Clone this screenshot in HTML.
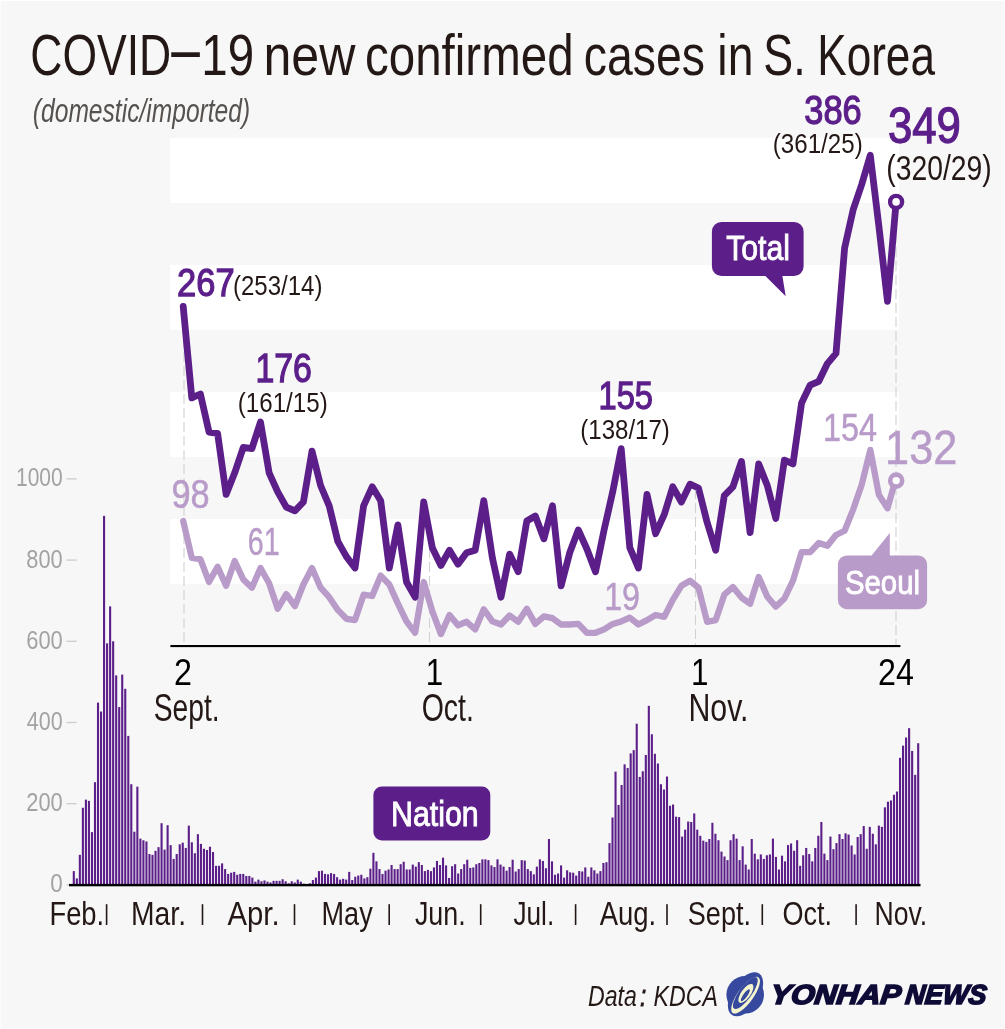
<!DOCTYPE html>
<html lang="en"><head><meta charset="utf-8"><title>COVID-19 new confirmed cases in S. Korea</title>
<style>html,body{margin:0;padding:0;background:#f7f7f7}svg{display:block}text{font-family:"Liberation Sans",sans-serif}</style></head><body>
<svg width="1005" height="1029" viewBox="0 0 1005 1029">
<rect width="1005" height="1029" fill="#f7f7f7"/>
<rect x="170.2" y="137.9" width="729" height="65" fill="#fff"/>
<rect x="170.2" y="264.9" width="729" height="65" fill="#fff"/>
<rect x="170.2" y="391.9" width="729" height="65" fill="#fff"/>
<rect x="170.2" y="518.9" width="729" height="65" fill="#fff"/>
<g fill="#5c1f8a">
<rect x="72.75" y="871.10" width="2.1" height="13.80"/>
<rect x="75.78" y="878.40" width="2.1" height="6.50"/>
<rect x="78.80" y="854.86" width="2.1" height="30.04"/>
<rect x="81.83" y="807.76" width="2.1" height="77.14"/>
<rect x="84.86" y="799.64" width="2.1" height="85.26"/>
<rect x="87.88" y="800.86" width="2.1" height="84.04"/>
<rect x="90.91" y="832.12" width="2.1" height="52.78"/>
<rect x="93.94" y="782.18" width="2.1" height="102.72"/>
<rect x="96.96" y="702.61" width="2.1" height="182.29"/>
<rect x="99.99" y="711.54" width="2.1" height="173.36"/>
<rect x="103.02" y="515.85" width="2.1" height="369.05"/>
<rect x="106.04" y="643.33" width="2.1" height="241.57"/>
<rect x="109.07" y="606.38" width="2.1" height="278.52"/>
<rect x="112.09" y="641.30" width="2.1" height="243.60"/>
<rect x="115.12" y="675.40" width="2.1" height="209.50"/>
<rect x="118.15" y="707.07" width="2.1" height="177.83"/>
<rect x="121.17" y="674.59" width="2.1" height="210.31"/>
<rect x="124.20" y="688.80" width="2.1" height="196.10"/>
<rect x="127.23" y="735.90" width="2.1" height="149.00"/>
<rect x="130.25" y="784.21" width="2.1" height="100.69"/>
<rect x="133.28" y="831.71" width="2.1" height="53.19"/>
<rect x="136.31" y="786.65" width="2.1" height="98.25"/>
<rect x="139.33" y="838.62" width="2.1" height="46.28"/>
<rect x="142.36" y="840.24" width="2.1" height="44.66"/>
<rect x="145.39" y="841.46" width="2.1" height="43.44"/>
<rect x="148.41" y="854.04" width="2.1" height="30.86"/>
<rect x="151.44" y="854.86" width="2.1" height="30.04"/>
<rect x="154.47" y="850.80" width="2.1" height="34.10"/>
<rect x="157.49" y="847.14" width="2.1" height="37.76"/>
<rect x="160.52" y="823.19" width="2.1" height="61.71"/>
<rect x="163.54" y="849.58" width="2.1" height="35.32"/>
<rect x="166.57" y="825.22" width="2.1" height="59.68"/>
<rect x="169.60" y="845.11" width="2.1" height="39.79"/>
<rect x="172.62" y="858.92" width="2.1" height="25.98"/>
<rect x="175.65" y="854.04" width="2.1" height="30.86"/>
<rect x="178.68" y="844.30" width="2.1" height="40.60"/>
<rect x="181.70" y="842.68" width="2.1" height="42.22"/>
<rect x="184.73" y="847.95" width="2.1" height="36.95"/>
<rect x="187.76" y="825.62" width="2.1" height="59.28"/>
<rect x="190.78" y="842.27" width="2.1" height="42.63"/>
<rect x="193.81" y="853.23" width="2.1" height="31.67"/>
<rect x="196.84" y="834.15" width="2.1" height="50.75"/>
<rect x="199.86" y="843.89" width="2.1" height="41.01"/>
<rect x="202.89" y="848.77" width="2.1" height="36.13"/>
<rect x="205.92" y="849.98" width="2.1" height="34.92"/>
<rect x="208.94" y="846.74" width="2.1" height="38.16"/>
<rect x="211.97" y="852.01" width="2.1" height="32.89"/>
<rect x="215.00" y="865.82" width="2.1" height="19.08"/>
<rect x="218.02" y="865.82" width="2.1" height="19.08"/>
<rect x="221.05" y="863.38" width="2.1" height="21.52"/>
<rect x="224.07" y="869.07" width="2.1" height="15.83"/>
<rect x="227.10" y="873.94" width="2.1" height="10.96"/>
<rect x="230.13" y="872.72" width="2.1" height="12.18"/>
<rect x="233.15" y="871.91" width="2.1" height="12.99"/>
<rect x="236.18" y="874.75" width="2.1" height="10.15"/>
<rect x="239.21" y="873.94" width="2.1" height="10.96"/>
<rect x="242.23" y="873.94" width="2.1" height="10.96"/>
<rect x="245.26" y="875.97" width="2.1" height="8.93"/>
<rect x="248.29" y="875.97" width="2.1" height="8.93"/>
<rect x="251.31" y="877.59" width="2.1" height="7.31"/>
<rect x="254.34" y="881.65" width="2.1" height="3.25"/>
<rect x="257.37" y="879.62" width="2.1" height="5.28"/>
<rect x="260.39" y="881.25" width="2.1" height="3.65"/>
<rect x="263.42" y="880.43" width="2.1" height="4.47"/>
<rect x="266.45" y="881.65" width="2.1" height="3.25"/>
<rect x="269.47" y="882.46" width="2.1" height="2.44"/>
<rect x="272.50" y="880.84" width="2.1" height="4.06"/>
<rect x="275.53" y="880.84" width="2.1" height="4.06"/>
<rect x="278.55" y="880.84" width="2.1" height="4.06"/>
<rect x="281.58" y="879.22" width="2.1" height="5.68"/>
<rect x="284.60" y="881.25" width="2.1" height="3.65"/>
<rect x="287.63" y="883.28" width="2.1" height="1.62"/>
<rect x="290.66" y="881.25" width="2.1" height="3.65"/>
<rect x="293.68" y="882.46" width="2.1" height="2.44"/>
<rect x="296.71" y="879.62" width="2.1" height="5.28"/>
<rect x="299.74" y="881.65" width="2.1" height="3.25"/>
<rect x="302.76" y="883.68" width="2.1" height="1.22"/>
<rect x="305.79" y="884.09" width="2.1" height="0.81"/>
<rect x="308.82" y="883.28" width="2.1" height="1.62"/>
<rect x="311.84" y="880.03" width="2.1" height="4.87"/>
<rect x="314.87" y="877.59" width="2.1" height="7.31"/>
<rect x="317.90" y="871.10" width="2.1" height="13.80"/>
<rect x="320.92" y="870.69" width="2.1" height="14.21"/>
<rect x="323.95" y="873.94" width="2.1" height="10.96"/>
<rect x="326.98" y="874.34" width="2.1" height="10.56"/>
<rect x="330.00" y="873.13" width="2.1" height="11.77"/>
<rect x="333.03" y="873.94" width="2.1" height="10.96"/>
<rect x="336.06" y="877.19" width="2.1" height="7.71"/>
<rect x="339.08" y="879.62" width="2.1" height="5.28"/>
<rect x="342.11" y="878.81" width="2.1" height="6.09"/>
<rect x="345.13" y="879.62" width="2.1" height="5.28"/>
<rect x="348.16" y="871.91" width="2.1" height="12.99"/>
<rect x="351.19" y="880.03" width="2.1" height="4.87"/>
<rect x="354.21" y="876.78" width="2.1" height="8.12"/>
<rect x="357.24" y="875.56" width="2.1" height="9.34"/>
<rect x="360.27" y="874.75" width="2.1" height="10.15"/>
<rect x="363.29" y="878.40" width="2.1" height="6.50"/>
<rect x="366.32" y="877.19" width="2.1" height="7.71"/>
<rect x="369.35" y="868.66" width="2.1" height="16.24"/>
<rect x="372.37" y="852.83" width="2.1" height="32.07"/>
<rect x="375.40" y="861.35" width="2.1" height="23.55"/>
<rect x="378.43" y="869.07" width="2.1" height="15.83"/>
<rect x="381.45" y="873.94" width="2.1" height="10.96"/>
<rect x="384.48" y="870.69" width="2.1" height="14.21"/>
<rect x="387.51" y="869.47" width="2.1" height="15.43"/>
<rect x="390.53" y="865.01" width="2.1" height="19.89"/>
<rect x="393.56" y="869.07" width="2.1" height="15.83"/>
<rect x="396.59" y="869.07" width="2.1" height="15.83"/>
<rect x="399.61" y="864.19" width="2.1" height="20.71"/>
<rect x="402.64" y="861.76" width="2.1" height="23.14"/>
<rect x="405.67" y="869.47" width="2.1" height="15.43"/>
<rect x="408.69" y="869.47" width="2.1" height="15.43"/>
<rect x="411.72" y="864.60" width="2.1" height="20.30"/>
<rect x="414.74" y="866.63" width="2.1" height="18.27"/>
<rect x="417.77" y="862.16" width="2.1" height="22.74"/>
<rect x="420.80" y="865.01" width="2.1" height="19.89"/>
<rect x="423.82" y="871.10" width="2.1" height="13.80"/>
<rect x="426.85" y="869.88" width="2.1" height="15.02"/>
<rect x="429.88" y="871.10" width="2.1" height="13.80"/>
<rect x="432.90" y="867.44" width="2.1" height="17.46"/>
<rect x="435.93" y="860.95" width="2.1" height="23.95"/>
<rect x="438.96" y="865.01" width="2.1" height="19.89"/>
<rect x="441.98" y="857.70" width="2.1" height="27.20"/>
<rect x="445.01" y="865.41" width="2.1" height="19.49"/>
<rect x="448.04" y="878.00" width="2.1" height="6.90"/>
<rect x="451.06" y="866.22" width="2.1" height="18.68"/>
<rect x="454.09" y="864.19" width="2.1" height="20.71"/>
<rect x="457.12" y="873.53" width="2.1" height="11.37"/>
<rect x="460.14" y="869.07" width="2.1" height="15.83"/>
<rect x="463.17" y="864.19" width="2.1" height="20.71"/>
<rect x="466.19" y="859.73" width="2.1" height="25.17"/>
<rect x="469.22" y="867.85" width="2.1" height="17.05"/>
<rect x="472.25" y="867.44" width="2.1" height="17.46"/>
<rect x="475.27" y="864.19" width="2.1" height="20.71"/>
<rect x="478.30" y="862.98" width="2.1" height="21.92"/>
<rect x="481.33" y="859.32" width="2.1" height="25.58"/>
<rect x="484.35" y="859.32" width="2.1" height="25.58"/>
<rect x="487.38" y="860.13" width="2.1" height="24.77"/>
<rect x="490.41" y="865.41" width="2.1" height="19.49"/>
<rect x="493.43" y="867.04" width="2.1" height="17.86"/>
<rect x="496.46" y="859.32" width="2.1" height="25.58"/>
<rect x="499.49" y="864.60" width="2.1" height="20.30"/>
<rect x="502.51" y="866.63" width="2.1" height="18.27"/>
<rect x="505.54" y="870.69" width="2.1" height="14.21"/>
<rect x="508.57" y="867.04" width="2.1" height="17.86"/>
<rect x="511.59" y="859.73" width="2.1" height="25.17"/>
<rect x="514.62" y="871.50" width="2.1" height="13.40"/>
<rect x="517.65" y="869.07" width="2.1" height="15.83"/>
<rect x="520.67" y="860.13" width="2.1" height="24.77"/>
<rect x="523.70" y="860.54" width="2.1" height="24.36"/>
<rect x="526.73" y="869.07" width="2.1" height="15.83"/>
<rect x="529.75" y="871.10" width="2.1" height="13.80"/>
<rect x="532.78" y="874.34" width="2.1" height="10.56"/>
<rect x="535.80" y="866.63" width="2.1" height="18.27"/>
<rect x="538.83" y="859.32" width="2.1" height="25.58"/>
<rect x="541.86" y="860.95" width="2.1" height="23.95"/>
<rect x="544.88" y="868.25" width="2.1" height="16.65"/>
<rect x="547.91" y="839.02" width="2.1" height="45.88"/>
<rect x="550.94" y="861.35" width="2.1" height="23.55"/>
<rect x="553.96" y="874.75" width="2.1" height="10.15"/>
<rect x="556.99" y="873.53" width="2.1" height="11.37"/>
<rect x="560.02" y="865.41" width="2.1" height="19.49"/>
<rect x="563.04" y="877.59" width="2.1" height="7.31"/>
<rect x="566.07" y="870.28" width="2.1" height="14.62"/>
<rect x="569.10" y="872.31" width="2.1" height="12.59"/>
<rect x="572.12" y="872.72" width="2.1" height="12.18"/>
<rect x="575.15" y="875.56" width="2.1" height="9.34"/>
<rect x="578.18" y="871.10" width="2.1" height="13.80"/>
<rect x="581.20" y="871.50" width="2.1" height="13.40"/>
<rect x="584.23" y="867.44" width="2.1" height="17.46"/>
<rect x="587.25" y="876.78" width="2.1" height="8.12"/>
<rect x="590.28" y="867.44" width="2.1" height="17.46"/>
<rect x="593.31" y="870.28" width="2.1" height="14.62"/>
<rect x="596.33" y="873.53" width="2.1" height="11.37"/>
<rect x="599.36" y="871.10" width="2.1" height="13.80"/>
<rect x="602.39" y="862.98" width="2.1" height="21.92"/>
<rect x="605.41" y="862.16" width="2.1" height="22.74"/>
<rect x="608.44" y="843.08" width="2.1" height="41.82"/>
<rect x="611.47" y="817.50" width="2.1" height="67.40"/>
<rect x="614.49" y="771.63" width="2.1" height="113.27"/>
<rect x="617.52" y="804.92" width="2.1" height="79.98"/>
<rect x="620.55" y="785.02" width="2.1" height="99.88"/>
<rect x="623.57" y="764.32" width="2.1" height="120.58"/>
<rect x="626.60" y="767.97" width="2.1" height="116.93"/>
<rect x="629.63" y="753.36" width="2.1" height="131.54"/>
<rect x="632.65" y="750.11" width="2.1" height="134.79"/>
<rect x="635.68" y="723.72" width="2.1" height="161.18"/>
<rect x="638.71" y="776.90" width="2.1" height="108.00"/>
<rect x="641.73" y="771.22" width="2.1" height="113.68"/>
<rect x="644.76" y="754.98" width="2.1" height="129.92"/>
<rect x="647.78" y="705.85" width="2.1" height="179.05"/>
<rect x="650.81" y="734.27" width="2.1" height="150.63"/>
<rect x="653.84" y="753.76" width="2.1" height="131.14"/>
<rect x="656.86" y="763.51" width="2.1" height="121.39"/>
<rect x="659.89" y="784.21" width="2.1" height="100.69"/>
<rect x="662.92" y="789.49" width="2.1" height="95.41"/>
<rect x="665.94" y="776.50" width="2.1" height="108.40"/>
<rect x="668.97" y="805.73" width="2.1" height="79.17"/>
<rect x="672.00" y="804.51" width="2.1" height="80.39"/>
<rect x="675.02" y="816.69" width="2.1" height="68.21"/>
<rect x="678.05" y="817.10" width="2.1" height="67.80"/>
<rect x="681.08" y="836.59" width="2.1" height="48.31"/>
<rect x="684.10" y="829.68" width="2.1" height="55.22"/>
<rect x="687.13" y="821.56" width="2.1" height="63.34"/>
<rect x="690.16" y="821.97" width="2.1" height="62.93"/>
<rect x="693.18" y="813.44" width="2.1" height="71.46"/>
<rect x="696.21" y="829.68" width="2.1" height="55.22"/>
<rect x="699.24" y="835.77" width="2.1" height="49.13"/>
<rect x="702.26" y="840.65" width="2.1" height="44.25"/>
<rect x="705.29" y="841.86" width="2.1" height="43.04"/>
<rect x="708.31" y="839.02" width="2.1" height="45.88"/>
<rect x="711.34" y="822.78" width="2.1" height="62.12"/>
<rect x="714.37" y="833.74" width="2.1" height="51.16"/>
<rect x="717.39" y="840.24" width="2.1" height="44.66"/>
<rect x="720.42" y="851.61" width="2.1" height="33.29"/>
<rect x="723.45" y="856.48" width="2.1" height="28.42"/>
<rect x="726.47" y="860.13" width="2.1" height="24.77"/>
<rect x="729.50" y="840.24" width="2.1" height="44.66"/>
<rect x="732.53" y="834.15" width="2.1" height="50.75"/>
<rect x="735.55" y="838.62" width="2.1" height="46.28"/>
<rect x="738.58" y="860.13" width="2.1" height="24.77"/>
<rect x="741.61" y="846.33" width="2.1" height="38.57"/>
<rect x="744.63" y="864.60" width="2.1" height="20.30"/>
<rect x="747.66" y="869.47" width="2.1" height="15.43"/>
<rect x="750.69" y="839.02" width="2.1" height="45.88"/>
<rect x="753.71" y="853.64" width="2.1" height="31.26"/>
<rect x="756.74" y="859.32" width="2.1" height="25.58"/>
<rect x="759.77" y="854.45" width="2.1" height="30.45"/>
<rect x="762.79" y="858.92" width="2.1" height="25.98"/>
<rect x="765.82" y="855.26" width="2.1" height="29.64"/>
<rect x="768.85" y="854.45" width="2.1" height="30.45"/>
<rect x="771.87" y="838.62" width="2.1" height="46.28"/>
<rect x="774.90" y="856.89" width="2.1" height="28.01"/>
<rect x="777.92" y="869.47" width="2.1" height="15.43"/>
<rect x="780.95" y="855.67" width="2.1" height="29.23"/>
<rect x="783.98" y="861.35" width="2.1" height="23.55"/>
<rect x="787.00" y="845.11" width="2.1" height="39.79"/>
<rect x="790.03" y="843.49" width="2.1" height="41.41"/>
<rect x="793.06" y="850.80" width="2.1" height="34.10"/>
<rect x="796.08" y="840.24" width="2.1" height="44.66"/>
<rect x="799.11" y="865.82" width="2.1" height="19.08"/>
<rect x="802.14" y="855.26" width="2.1" height="29.64"/>
<rect x="805.16" y="847.95" width="2.1" height="36.95"/>
<rect x="808.19" y="854.04" width="2.1" height="30.86"/>
<rect x="811.22" y="861.35" width="2.1" height="23.55"/>
<rect x="814.24" y="847.95" width="2.1" height="36.95"/>
<rect x="817.27" y="835.77" width="2.1" height="49.13"/>
<rect x="820.30" y="821.97" width="2.1" height="62.93"/>
<rect x="823.32" y="853.64" width="2.1" height="31.26"/>
<rect x="826.35" y="860.13" width="2.1" height="24.77"/>
<rect x="829.38" y="836.59" width="2.1" height="48.31"/>
<rect x="832.40" y="849.17" width="2.1" height="35.73"/>
<rect x="835.43" y="843.08" width="2.1" height="41.82"/>
<rect x="838.45" y="834.15" width="2.1" height="50.75"/>
<rect x="841.48" y="839.02" width="2.1" height="45.88"/>
<rect x="844.51" y="833.34" width="2.1" height="51.56"/>
<rect x="847.53" y="834.56" width="2.1" height="50.34"/>
<rect x="850.56" y="845.52" width="2.1" height="39.38"/>
<rect x="853.59" y="854.45" width="2.1" height="30.45"/>
<rect x="856.61" y="836.99" width="2.1" height="47.91"/>
<rect x="859.64" y="834.15" width="2.1" height="50.75"/>
<rect x="862.67" y="826.03" width="2.1" height="58.87"/>
<rect x="865.69" y="848.77" width="2.1" height="36.13"/>
<rect x="868.72" y="826.84" width="2.1" height="58.06"/>
<rect x="871.75" y="833.74" width="2.1" height="51.16"/>
<rect x="874.77" y="844.30" width="2.1" height="40.60"/>
<rect x="877.80" y="825.62" width="2.1" height="59.28"/>
<rect x="880.83" y="826.84" width="2.1" height="58.06"/>
<rect x="883.85" y="807.35" width="2.1" height="77.55"/>
<rect x="886.88" y="801.67" width="2.1" height="83.23"/>
<rect x="889.90" y="800.45" width="2.1" height="84.45"/>
<rect x="892.93" y="794.77" width="2.1" height="90.13"/>
<rect x="895.96" y="791.52" width="2.1" height="93.38"/>
<rect x="898.98" y="757.82" width="2.1" height="127.08"/>
<rect x="902.01" y="745.64" width="2.1" height="139.26"/>
<rect x="905.04" y="737.52" width="2.1" height="147.38"/>
<rect x="908.06" y="728.18" width="2.1" height="156.72"/>
<rect x="911.09" y="750.92" width="2.1" height="133.98"/>
<rect x="914.12" y="774.87" width="2.1" height="110.03"/>
<rect x="917.14" y="743.21" width="2.1" height="141.69"/>
</g>
<rect x="66.3" y="884.2" width="10.4" height="1.4" fill="#cfcfcf"/>
<text transform="translate(50.30 892.34) scale(0.8616 1)" font-size="26.01" fill="#a3a3a3">0</text>
<rect x="66.3" y="803.0" width="10.4" height="1.4" fill="#cfcfcf"/>
<text transform="translate(26.21 811.14) scale(0.8420 1)" font-size="26.01" fill="#a3a3a3">200</text>
<rect x="66.3" y="721.8" width="10.4" height="1.4" fill="#cfcfcf"/>
<text transform="translate(26.82 729.94) scale(0.8276 1)" font-size="26.01" fill="#a3a3a3">400</text>
<rect x="66.3" y="640.6" width="10.4" height="1.4" fill="#cfcfcf"/>
<text transform="translate(26.21 648.74) scale(0.8420 1)" font-size="26.01" fill="#a3a3a3">600</text>
<rect x="66.3" y="559.4" width="10.4" height="1.4" fill="#cfcfcf"/>
<text transform="translate(26.37 567.54) scale(0.8381 1)" font-size="26.01" fill="#a3a3a3">800</text>
<rect x="66.3" y="478.2" width="10.4" height="1.4" fill="#cfcfcf"/>
<text transform="translate(16.03 486.34) scale(0.8073 1)" font-size="26.01" fill="#a3a3a3">1000</text>
<rect x="69" y="883.9" width="851.5" height="2.4" fill="#000"/>
<text transform="translate(49.44 924.60) scale(0.8178 1)" font-size="33.45" fill="#231815">Feb.</text>
<text transform="translate(131.07 924.60) scale(0.8449 1)" font-size="33.45" fill="#231815">Mar.</text>
<text transform="translate(227.53 924.60) scale(0.8763 1)" font-size="33.45" fill="#231815">Apr.</text>
<text transform="translate(321.56 924.60) scale(0.8098 1)" font-size="33.45" fill="#231815">May</text>
<text transform="translate(414.90 924.60) scale(0.8038 1)" font-size="33.45" fill="#231815">Jun.</text>
<text transform="translate(513.41 924.60) scale(0.7834 1)" font-size="33.45" fill="#231815">Jul.</text>
<text transform="translate(599.73 924.60) scale(0.8214 1)" font-size="33.45" fill="#231815">Aug.</text>
<text transform="translate(687.78 924.60) scale(0.8098 1)" font-size="33.45" fill="#231815">Sept.</text>
<text transform="translate(782.52 924.60) scale(0.8077 1)" font-size="33.45" fill="#231815">Oct.</text>
<text transform="translate(874.51 924.60) scale(0.7943 1)" font-size="33.45" fill="#231815">Nov.</text>
<rect x="105.8" y="904.2" width="1.6" height="20.8" fill="#231815"/>
<rect x="201.7" y="904.2" width="1.6" height="20.8" fill="#231815"/>
<rect x="293.7" y="904.2" width="1.6" height="20.8" fill="#231815"/>
<rect x="388.4" y="904.2" width="1.6" height="20.8" fill="#231815"/>
<rect x="479.9" y="904.2" width="1.6" height="20.8" fill="#231815"/>
<rect x="574.8" y="904.2" width="1.6" height="20.8" fill="#231815"/>
<rect x="666.2" y="904.2" width="1.6" height="20.8" fill="#231815"/>
<rect x="761.5" y="904.2" width="1.6" height="20.8" fill="#231815"/>
<rect x="855.3" y="904.2" width="1.6" height="20.8" fill="#231815"/>
<line x1="184.0" y1="310.0" x2="184.0" y2="645" stroke="#d2d2d2" stroke-width="1.1" stroke-dasharray="10 4"/>
<line x1="429.5" y1="548.0" x2="429.5" y2="645" stroke="#d2d2d2" stroke-width="1.1" stroke-dasharray="10 4"/>
<line x1="695.5" y1="489.0" x2="695.5" y2="645" stroke="#d2d2d2" stroke-width="1.1" stroke-dasharray="10 4"/>
<line x1="896.0" y1="205.0" x2="896.0" y2="645" stroke="#d2d2d2" stroke-width="1.1" stroke-dasharray="10 4"/>
<rect x="170.4" y="645" width="730" height="2.1" fill="#000"/>
<polyline points="183.2,521.0 191.8,557.9 200.4,559.1 209.0,582.0 217.6,566.8 226.1,585.8 234.7,561.0 243.3,579.5 251.9,587.7 260.5,568.0 269.1,583.3 277.7,608.7 286.3,594.1 294.9,606.1 303.4,584.5 312.0,568.0 320.6,587.7 329.2,597.2 337.8,609.9 346.4,618.8 355.0,620.1 363.6,594.7 372.2,596.0 380.7,575.6 389.3,584.5 397.9,603.6 406.5,621.4 415.1,632.8 423.7,582.0 432.3,611.2 440.9,634.1 449.5,615.0 458.0,625.2 466.6,621.8 475.2,629.4 483.8,609.3 492.4,621.4 501.0,624.5 509.6,615.5 518.2,621.8 526.8,608.7 535.3,623.9 543.9,616.3 552.5,618.2 561.1,624.5 569.7,624.5 578.3,623.9 586.9,632.8 595.5,632.8 604.1,629.4 612.7,623.9 621.2,621.4 629.8,617.6 638.4,624.5 647.0,620.1 655.6,615.0 664.2,616.9 672.8,599.8 681.4,585.8 690.0,580.7 698.5,587.7 707.1,621.8 715.7,620.1 724.3,594.7 732.9,587.1 741.5,597.6 750.1,603.8 758.7,576.9 767.3,596.7 775.8,606.6 784.4,598.5 793.0,580.7 801.6,552.2 810.2,552.2 818.8,543.0 827.4,545.7 836.0,535.0 844.6,530.7 853.1,509.6 861.7,484.8 870.3,449.9 878.9,494.9 887.5,508.3 896.1,477.9" fill="none" stroke="#b89bc9" stroke-width="6.3" stroke-linejoin="round" stroke-linecap="round"/>
<polyline points="183.2,306.4 191.8,397.9 200.4,394.0 209.0,432.1 217.6,433.4 226.1,494.4 234.7,472.8 243.3,447.4 251.9,448.6 260.5,422.0 269.1,472.8 277.7,491.8 286.3,507.1 294.9,510.9 303.4,502.0 312.0,451.2 320.6,485.5 329.2,505.8 337.8,541.4 346.4,556.6 355.0,568.0 363.6,505.8 372.2,486.8 380.7,500.7 389.3,568.0 397.9,524.9 406.5,582.0 415.1,597.2 423.7,502.0 432.3,547.7 440.9,565.5 449.5,550.2 458.0,564.2 466.6,552.8 475.2,550.2 483.8,500.7 492.4,557.9 501.0,597.2 509.6,554.1 518.2,571.8 526.8,521.0 535.3,516.0 543.9,538.8 552.5,505.8 561.1,585.8 569.7,552.8 578.3,529.9 586.9,549.0 595.5,571.8 604.1,529.9 612.7,491.8 621.2,448.6 629.8,547.7 638.4,568.0 647.0,494.4 655.6,533.7 664.2,514.7 672.8,486.8 681.4,502.0 690.0,484.2 698.5,488.0 707.1,522.3 715.7,550.2 724.3,495.6 732.9,486.8 741.5,461.4 750.1,532.5 758.7,463.9 767.3,485.5 775.8,518.5 784.4,460.1 793.0,463.9 801.6,402.9 810.2,385.1 818.8,381.3 827.4,363.6 836.0,353.4 844.6,248.0 853.1,209.9 861.7,184.5 870.3,155.3 878.9,226.4 887.5,301.3 896.1,202.3" fill="none" stroke="#5c1f8a" stroke-width="6.8" stroke-linejoin="round" stroke-linecap="round"/>
<circle cx="896.1" cy="201.9" r="6" fill="#fff" stroke="#5c1f8a" stroke-width="4.4"/>
<circle cx="896.2" cy="480.6" r="6" fill="#fff" stroke="#b89bc9" stroke-width="4.6"/>
<path d="M721.4 221.9H794.1a9.500 9.500 0 0 1 9.500 9.500V266.5a9.500 9.500 0 0 1-9.500 9.500H782.4L785.7 296.2 765.4 276H721.4a9.500 9.500 0 0 1-9.500-9.500V231.4a9.500 9.500 0 0 1 9.500-9.500Z" fill="#5c1f8a"/>
<text transform="translate(726.20 260.25) scale(0.8624 1)" font-size="35.05" fill="#fff" stroke="#fff" stroke-width="0.90">Total</text>
<path d="M846.9 555.4H871.6L889.8 533.1V555.4H918.1a9 9 0 0 1 9 9V600.2a9 9 0 0 1-9 9H846.9a9 9 0 0 1-9-9V564.4a9 9 0 0 1 9-9Z" fill="#b89bc9"/>
<text transform="translate(844.96 593.85) scale(0.8683 1)" font-size="33.79" fill="#fff" stroke="#fff" stroke-width="0.90">Seoul</text>
<rect x="373.4" y="786.4" width="116.9" height="54.2" rx="8.500" fill="#5c1f8a"/>
<text transform="translate(390.97 825.55) scale(0.8626 1)" font-size="35.20" fill="#fff" stroke="#fff" stroke-width="0.90">Nation</text>
<text transform="translate(177.12 295.65) scale(0.8706 1)" font-size="39.58" fill="#5c1f8a" stroke="#5c1f8a" stroke-width="1.30">267</text>
<text transform="translate(233.00 294.63) scale(0.8848 1)" font-size="27.14" fill="#231815">(253/14)</text>
<text transform="translate(255.41 382.05) scale(0.8469 1)" font-size="40.00" fill="#5c1f8a" stroke="#5c1f8a" stroke-width="1.30">176</text>
<text transform="translate(237.79 411.83) scale(0.9040 1)" font-size="26.71" fill="#231815">(161/15)</text>
<text transform="translate(598.50 408.85) scale(0.8224 1)" font-size="39.71" fill="#5c1f8a" stroke="#5c1f8a" stroke-width="1.30">155</text>
<text transform="translate(580.30 439.03) scale(0.8868 1)" font-size="27.14" fill="#231815">(138/17)</text>
<text transform="translate(804.25 123.54) scale(0.8321 1)" font-size="41.41" fill="#5c1f8a" stroke="#5c1f8a" stroke-width="1.30">386</text>
<text transform="translate(772.79 152.93) scale(0.9040 1)" font-size="26.71" fill="#231815">(361/25)</text>
<text transform="translate(887.91 142.84) scale(0.8642 1)" font-size="50.60" fill="#5c1f8a" stroke="#5c1f8a" stroke-width="1.30">349</text>
<text transform="translate(886.33 180.36) scale(0.8278 1)" font-size="34.20" fill="#231815">(320/29)</text>
<text transform="translate(171.38 508.45) scale(0.8598 1)" font-size="40.00" fill="#b89bc9" stroke="#b89bc9" stroke-width="0.50">98</text>
<text transform="translate(247.87 555.36) scale(0.7283 1)" font-size="39.43" fill="#b89bc9" stroke="#b89bc9" stroke-width="0.50">61</text>
<text transform="translate(604.19 609.86) scale(0.8285 1)" font-size="38.87" fill="#b89bc9" stroke="#b89bc9" stroke-width="0.50">19</text>
<text transform="translate(822.88 440.87) scale(0.8428 1)" font-size="38.42" fill="#b89bc9" stroke="#b89bc9" stroke-width="0.50">154</text>
<text transform="translate(885.06 464.16) scale(0.8878 1)" font-size="48.76" fill="#b89bc9" stroke="#b89bc9" stroke-width="0.50">132</text>
<text transform="translate(173.98 684.60) scale(0.8872 1)" font-size="36.42" fill="#000">2</text>
<text transform="translate(153.73 720.72) scale(0.7452 1)" font-size="37.88" fill="#231815">Sept.</text>
<text transform="translate(425.77 684.6) scale(0.860 1)" font-size="36.51" fill="#000">1</text>
<text transform="translate(421.65 720.80) scale(0.7506 1)" font-size="37.96" fill="#231815">Oct.</text>
<text transform="translate(691.07 684.6) scale(0.860 1)" font-size="36.51" fill="#000">1</text>
<text transform="translate(688.40 720.80) scale(0.7990 1)" font-size="37.96" fill="#231815">Nov.</text>
<text transform="translate(878.09 684.60) scale(0.8857 1)" font-size="36.42" fill="#000">24</text>
<g>
<text transform="translate(30.28 75.00) scale(0.7648 1)" font-size="58.18" fill="#231815">COVID</text>
<text transform="translate(171.30 73.12) scale(0.7401 1)" font-size="69.63" fill="#231815">–</text>
<text transform="translate(201.34 75.00) scale(0.8160 1)" font-size="58.18" fill="#231815">19</text>
<text transform="translate(263.42 75.00) scale(0.8613 1)" font-size="58.18" fill="#231815">new</text>
<text transform="translate(364.98 75.00) scale(0.8167 1)" font-size="58.18" fill="#231815">confirmed</text>
<text transform="translate(583.73 75.00) scale(0.7973 1)" font-size="58.18" fill="#231815">cases</text>
<text transform="translate(717.37 75.00) scale(0.7963 1)" font-size="58.18" fill="#231815">in</text>
<text transform="translate(763.28 75.00) scale(0.7703 1)" font-size="58.18" fill="#231815">S.</text>
<text transform="translate(817.26 75.00) scale(0.7579 1)" font-size="58.18" fill="#231815">Korea</text>
</g>
<text transform="translate(32.83 122.44) scale(0.7329 1)" font-size="33.57" fill="#565250" font-style="italic">(domestic/imported)</text>
<text transform="translate(588.01 1006.30) scale(0.7710 1)" font-size="29.96" fill="#231815" font-style="italic">Data</text>
<text transform="translate(640.08 1005.85) scale(0.7853 1)" font-size="28.65" fill="#231815" font-style="italic" stroke="#231815" stroke-width="0.90">:</text>
<text transform="translate(653.51 1006.30) scale(0.7727 1)" font-size="29.96" fill="#231815" font-style="italic">KDCA</text>
<circle cx="745.2" cy="994.8" r="18.8" fill="#36499f"/>
<g transform="translate(745.5 994.3) rotate(33)">
<ellipse rx="13.500" ry="24.8" fill="#36499f"/>
</g>
<g transform="translate(745.6 995.2) rotate(36)">
<ellipse rx="7.8" ry="22" fill="#f4f5cc"/>
<ellipse cx="-1.5" cy="-1.6" rx="6.300" ry="19.2" fill="#36499f"/>
<ellipse cx="-0.8" cy="-1.6" rx="4.6" ry="11.2" fill="#f4f5cc"/>
<ellipse cx="-0.2" cy="0.2" rx="2" ry="7.2" fill="#36499f"/>
</g>
<text transform="translate(769.84 1003.65) scale(1.1138 1) skewX(-6)" font-size="27.35" fill="#0e0b36" font-weight="bold" font-style="italic" stroke="#0e0b36" stroke-width="1.70">YONHAP</text>
<text transform="translate(904.75 1003.65) scale(0.9875 1) skewX(-6)" font-size="27.35" fill="#0e0b36" font-weight="bold" font-style="italic" stroke="#0e0b36" stroke-width="1.70">NEWS</text>
<rect x="0.5" y="0.5" width="1004" height="1028" fill="none" stroke="#fcfcfc" stroke-width="1"/>
<rect x="0" y="0" width="1005" height="1" fill="#ffffff"/>
</svg></body></html>
